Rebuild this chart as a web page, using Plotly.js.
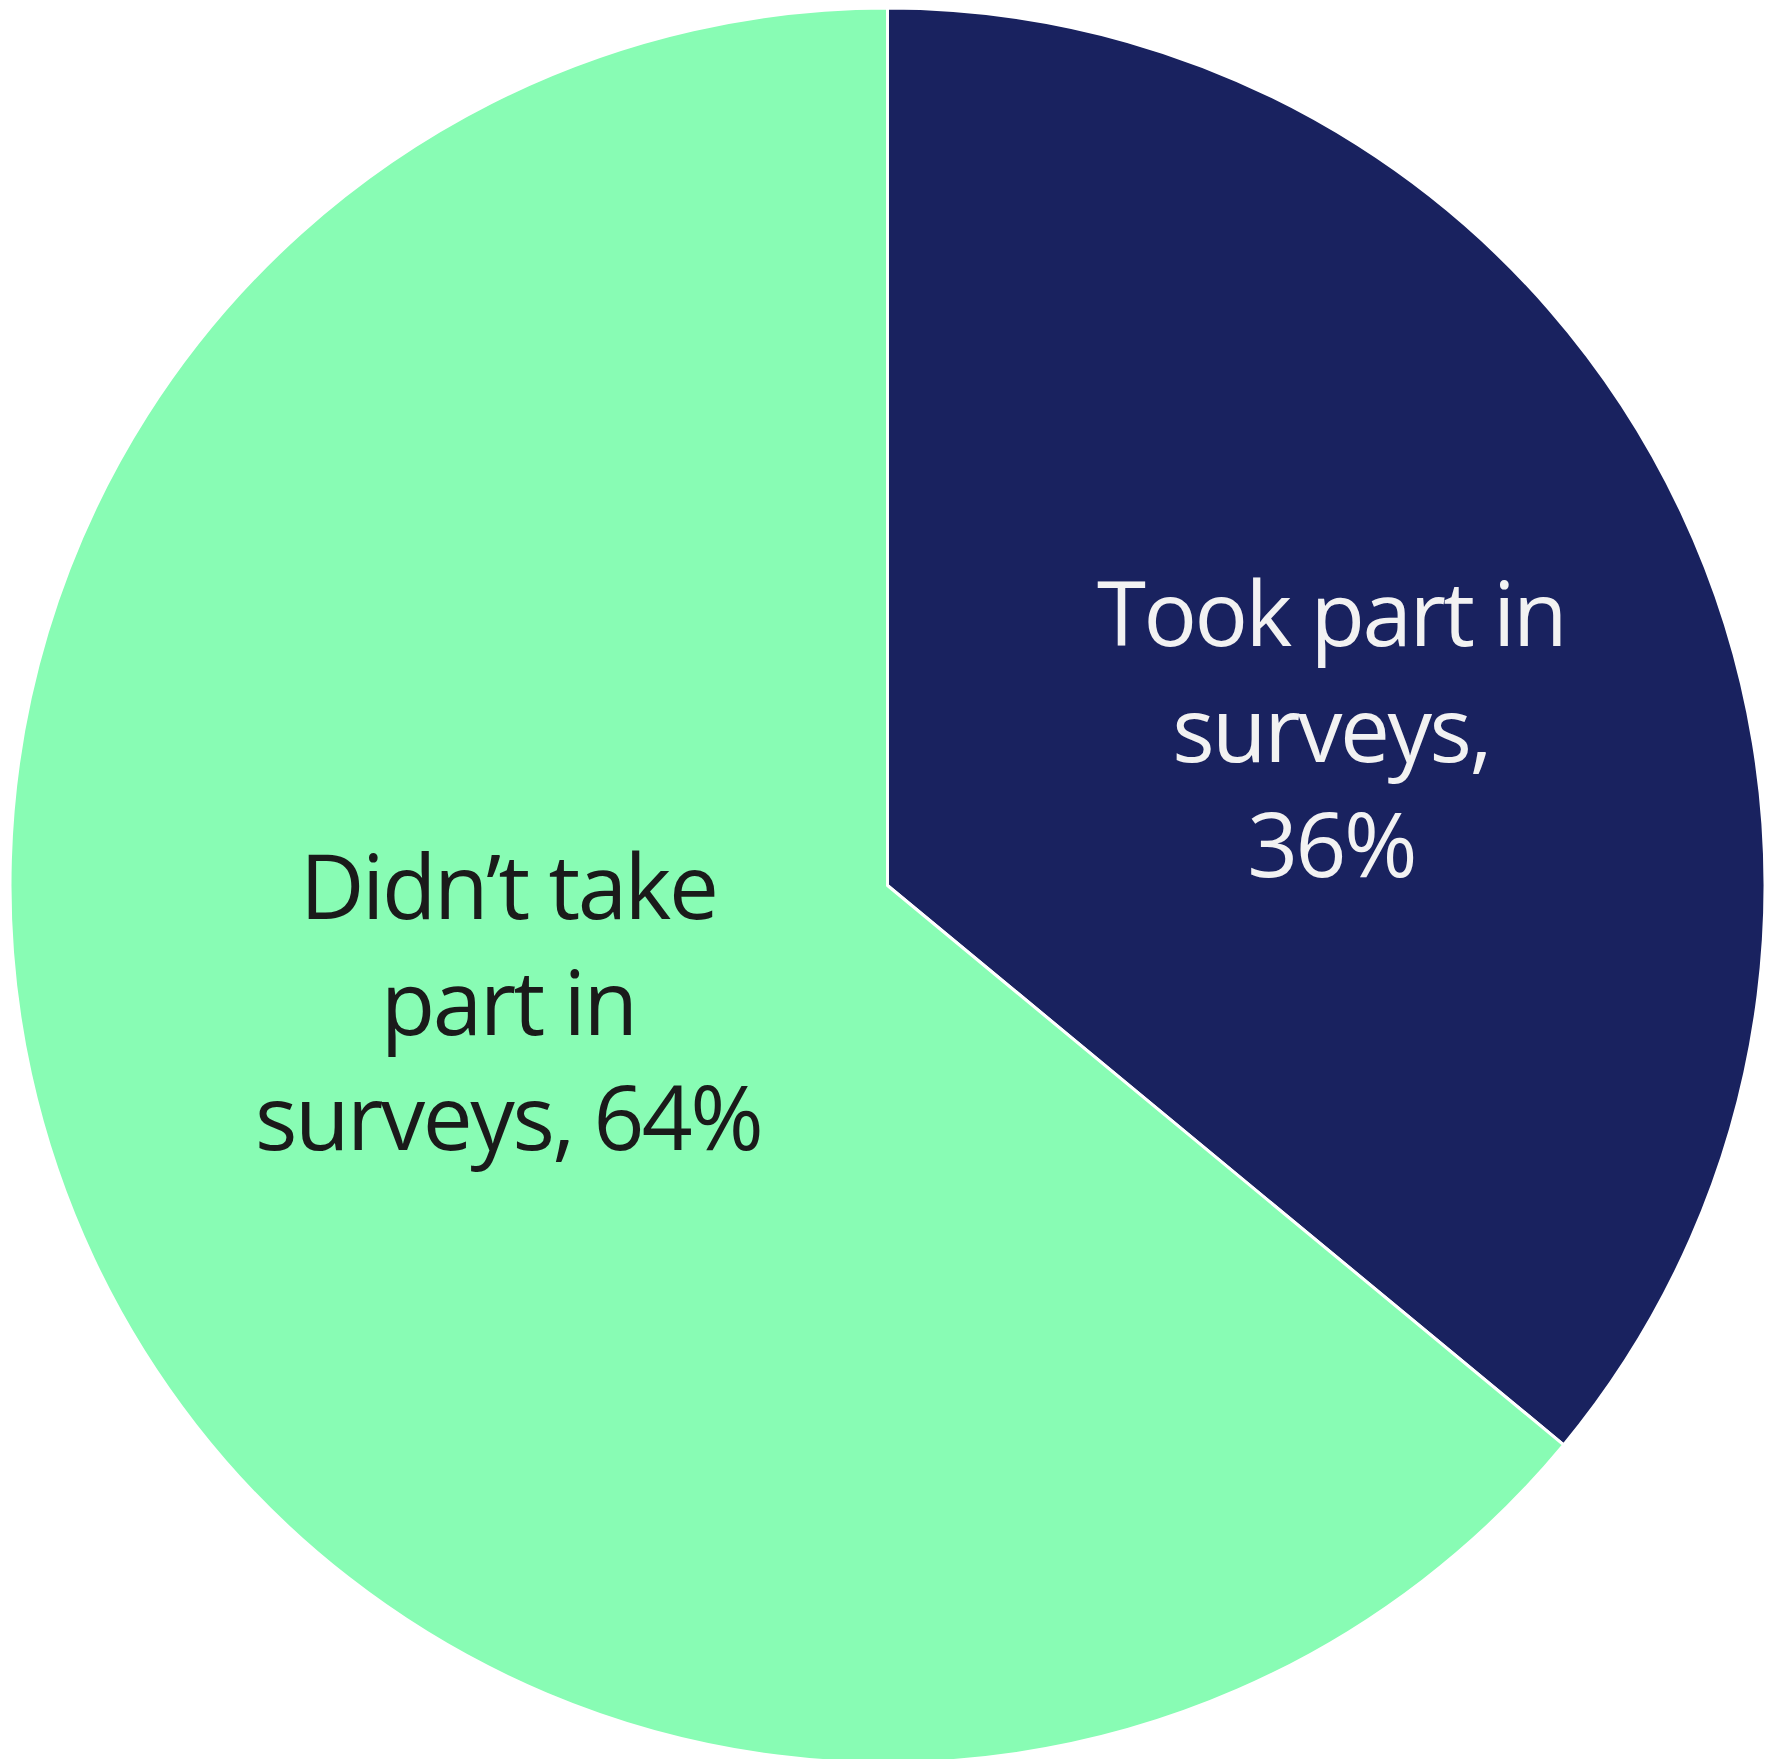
<!DOCTYPE html>
<html>
<head>
<meta charset="utf-8">
<script src="https://cdn.plot.ly/plotly-3.0.1.min.js"></script>
<style>
html, body { margin: 0; padding: 0; overflow: hidden; background: #ffffff; }
#chart { width: 1777px; height: 1763px; }
#chart .annotation-text { letter-spacing: -2.5px; }
</style>
</head>
<body>
<div id="chart"></div>
<script>
const categories = ["Took part in surveys", "Didn’t take part in surveys"];
const values = [36, 64];
const labelLines = [
  ["Took part in", "surveys,"],
  ["Didn’t take", "part in", "surveys,"]
];
const sliceColors = ["#19225f", "#88fcb4"];
const textColors = ["#f2f2f2", "#1a1a1a"];

const total = values.reduce((a, b) => a + b, 0);
const texts = values.map((v, i) => {
  const pct = Math.round(v / total * 100) + "%";
  const lines = labelLines[i].slice();
  if (i === 0) { lines.push(pct); } else { lines[lines.length - 1] += " " + pct; }
  return lines.join("<br>");
});

const trace = {
  type: "pie",
  labels: categories,
  values: values,
  textinfo: "none",
  sort: false,
  direction: "clockwise",
  rotation: 0,
  hole: 0,
  marker: { colors: sliceColors, line: { color: "#ffffff", width: 3 } },
  showlegend: false,
  hoverinfo: "none"
};

// label placement inside each slice (paper coordinates)
const labelPos = [
  { x: 0.7527, y: 0.5903 },
  { x: 0.2838, y: 0.4348 }
];

const annotations = texts.map((t, i) => ({
  text: t,
  xref: "paper", yref: "paper",
  x: labelPos[i].x, y: labelPos[i].y,
  xanchor: "center", yanchor: "middle",
  align: "center",
  showarrow: false,
  font: { family: "Open Sans, Noto Sans, sans-serif", size: 89, color: textColors[i] }
}));

const layout = {
  width: 1777,
  height: 1763,
  margin: { l: 10, r: 12, t: 8, b: 0, pad: 0 },
  paper_bgcolor: "#ffffff",
  plot_bgcolor: "#ffffff",
  showlegend: false,
  annotations: annotations
};

Plotly.newPlot("chart", [trace], layout, { staticPlot: true, displayModeBar: false });
</script>
</body>
</html>
